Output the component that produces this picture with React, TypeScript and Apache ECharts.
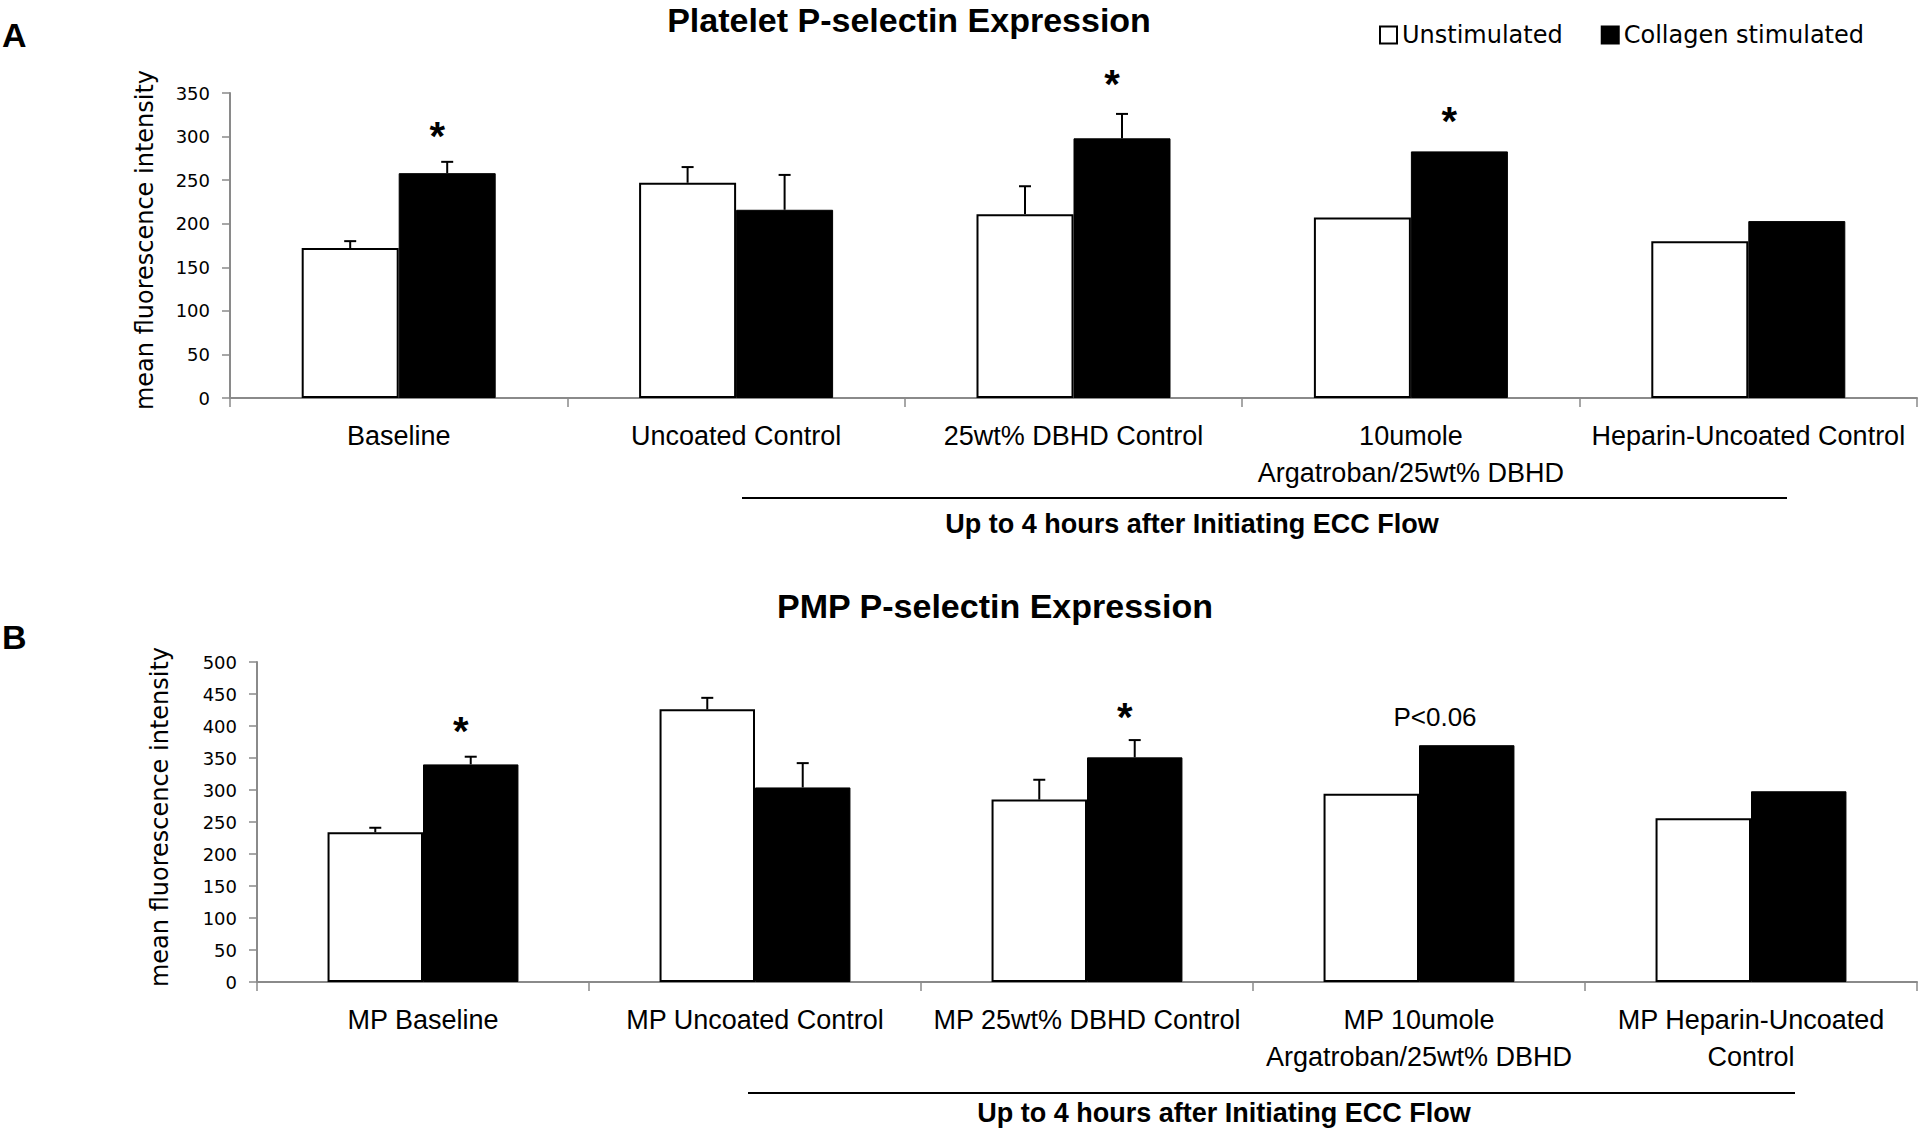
import React, { useEffect, useRef } from "react";
import * as echarts from "echarts";

// ---------- Data ----------
const categoriesA = [
  "Baseline",
  "Uncoated Control",
  "25wt% DBHD Control",
  "10umole\nArgatroban/25wt% DBHD",
  "Heparin-Uncoated Control",
];
const unstimA = [172, 247, 211, 207, 180];
const unstimErrA = [8, 18, 32, 0, 0];
const collagenA = [258, 216, 298, 283, 203];
const collagenErrA = [13, 40, 28, 0, 0];
const annotCatA = [0, 2, 3];
const annotValA = [310, 370, 327];
const annotTextA = ["*", "*", "*"];

const categoriesB = [
  "MP Baseline",
  "MP Uncoated Control",
  "MP 25wt% DBHD Control",
  "MP 10umole\nArgatroban/25wt% DBHD",
  "MP Heparin-Uncoated\nControl",
];
const unstimB = [234, 426, 285, 294, 256];
const unstimErrB = [7, 18, 31, 0, 0];
const collagenB = [340, 304, 351, 370, 298];
const collagenErrB = [12, 38, 27, 0, 0];
const annotCatB = [0, 2, 3];
const annotValB = [404, 427, 414];
const annotTextB = ["*", "*", "P<0.06"];

const yTicksA = { min: 0, max: 350, interval: 50 };
const yTicksB = { min: 0, max: 500, interval: 50 };

const seriesNames = ["Unstimulated", "Collagen stimulated"];

// ---------- Styling ----------
const CAT_GAP = 0.425;
const AXIS_COLOR = "#8a8a8a";
const LABEL_FONT = "'Liberation Sans', Arial, sans-serif";
const TICK_FONT = "'DejaVu Sans', Verdana, sans-serif";

function errData(vals: number[], errs: number[], side: number) {
  return vals
    .map((v, i) => [i, v, v + errs[i], side])
    .filter((d) => errs[d[0] as number] > 0);
}

function annotData(cats: number[], vals: number[], texts: string[]) {
  return cats.map((c, i) => ({ value: [c, vals[i]], text: texts[i] }));
}

function errRender(params: any, api: any) {
  const cat = api.value(0);
  const top = api.coord([cat, api.value(2)]);
  const base = api.coord([cat, api.value(1)]);
  const bw = (api.size([1, 0])[0] * (1 - CAT_GAP)) / 2;
  const x = top[0] + (api.value(3) * bw) / 2;
  const cap = 6;
  const style = { stroke: "#000", lineWidth: 2 };
  return {
    type: "group",
    children: [
      { type: "line", shape: { x1: x, y1: base[1], x2: x, y2: top[1] }, style },
      { type: "line", shape: { x1: x - cap, y1: top[1], x2: x + cap, y2: top[1] }, style },
    ],
  };
}

function makeAnnotRender(items: { value: number[]; text: string }[]) {
  return (params: any, api: any) => {
    const item = items[params.dataIndex];
    const p = api.coord([api.value(0), api.value(1)]);
    const bw = (api.size([1, 0])[0] * (1 - CAT_GAP)) / 2;
    const isStar = item.text === "*";
    const x = isStar ? p[0] + bw / 2 - 10 : p[0] + 16;
    return {
      type: "text",
      x,
      y: isStar ? p[1] + 8 : p[1],
      style: {
        text: item.text,
        fontFamily: LABEL_FONT,
        fontSize: isStar ? 40 : 26,
        fontWeight: isStar ? "bold" : "normal",
        fill: "#000",
        align: "center",
        verticalAlign: "middle",
      },
    };
  };
}

function xAxisCfg(cats: string[], gridIndex: number) {
  return {
    type: "category",
    gridIndex,
    data: cats,
    axisLine: { show: true, lineStyle: { color: AXIS_COLOR, width: 2 } },
    axisTick: { show: true, length: 9, interval: 0, lineStyle: { color: AXIS_COLOR, width: 1.5 } },
    axisLabel: {
      interval: 0,
      margin: 19,
      color: "#000",
      fontFamily: LABEL_FONT,
      fontSize: 27,
      lineHeight: 37,
    },
    splitLine: { show: false },
  };
}

function yAxisCfg(t: { min: number; max: number; interval: number }, gridIndex: number) {
  return {
    type: "value",
    gridIndex,
    min: t.min,
    max: t.max,
    interval: t.interval,
    axisLine: { show: true, lineStyle: { color: AXIS_COLOR, width: 2 } },
    axisTick: { show: true, length: 8, lineStyle: { color: AXIS_COLOR, width: 1.5 } },
    axisLabel: { margin: 20, color: "#000", fontFamily: TICK_FONT, fontSize: 18 },
    splitLine: { show: false },
  };
}

export default function App() {
  const ref = useRef<HTMLDivElement>(null);

  useEffect(() => {
    if (!ref.current) return;
    const chart = echarts.init(ref.current, null, { renderer: "svg" });

    const annA = annotData(annotCatA, annotValA, annotTextA);
    const annB = annotData(annotCatB, annotValB, annotTextB);

    const whiteStyle = { color: "#fff", borderColor: "#000", borderWidth: 2 };
    const blackStyle = { color: "#000", borderColor: "#000", borderWidth: 1 };

    const option: any = {
      animation: false,
      backgroundColor: "#fff",
      legend: {
        data: seriesNames,
        left: 1374,
        top: 18,
        itemWidth: 17,
        itemHeight: 17,
        itemGap: 38,
        icon: "rect",
        textStyle: { color: "#000", fontFamily: TICK_FONT, fontSize: 24 },
      },
      grid: [
        { left: 230, top: 93, width: 1687, height: 305 },
        { left: 257, top: 662, width: 1660, height: 320 },
      ],
      xAxis: [xAxisCfg(categoriesA, 0), xAxisCfg(categoriesB, 1)],
      yAxis: [yAxisCfg(yTicksA, 0), yAxisCfg(yTicksB, 1)],
      series: [
        {
          name: seriesNames[0], type: "bar", xAxisIndex: 0, yAxisIndex: 0,
          data: unstimA, itemStyle: whiteStyle, barGap: "0%", barCategoryGap: CAT_GAP * 100 + "%",
        },
        {
          name: seriesNames[1], type: "bar", xAxisIndex: 0, yAxisIndex: 0,
          data: collagenA, itemStyle: blackStyle, barGap: "0%", barCategoryGap: CAT_GAP * 100 + "%",
        },
        {
          name: seriesNames[0], type: "bar", xAxisIndex: 1, yAxisIndex: 1,
          data: unstimB, itemStyle: whiteStyle, barGap: "0%", barCategoryGap: CAT_GAP * 100 + "%",
        },
        {
          name: seriesNames[1], type: "bar", xAxisIndex: 1, yAxisIndex: 1,
          data: collagenB, itemStyle: blackStyle, barGap: "0%", barCategoryGap: CAT_GAP * 100 + "%",
        },
        {
          type: "custom", xAxisIndex: 0, yAxisIndex: 0, z: 5, clip: false,
          renderItem: errRender,
          data: [...errData(unstimA, unstimErrA, -1), ...errData(collagenA, collagenErrA, 1)],
        },
        {
          type: "custom", xAxisIndex: 1, yAxisIndex: 1, z: 5, clip: false,
          renderItem: errRender,
          data: [...errData(unstimB, unstimErrB, -1), ...errData(collagenB, collagenErrB, 1)],
        },
        {
          type: "custom", xAxisIndex: 0, yAxisIndex: 0, z: 6, clip: false,
          renderItem: makeAnnotRender(annA), data: annA.map((a) => a.value),
        },
        {
          type: "custom", xAxisIndex: 1, yAxisIndex: 1, z: 6, clip: false,
          renderItem: makeAnnotRender(annB), data: annB.map((a) => a.value),
        },
      ],
      graphic: [
        { type: "text", left: 2, top: 18, style: { text: "A", fontFamily: LABEL_FONT, fontWeight: "bold", fontSize: 34, fill: "#000" } },
        { type: "text", left: 2, top: 620, style: { text: "B", fontFamily: LABEL_FONT, fontWeight: "bold", fontSize: 34, fill: "#000" } },
        {
          type: "text", x: 909, y: 20,
          style: { text: "Platelet P-selectin Expression", fontFamily: LABEL_FONT, fontWeight: "bold", fontSize: 34, fill: "#000", align: "center", verticalAlign: "middle" },
        },
        {
          type: "text", x: 995, y: 606,
          style: { text: "PMP P-selectin Expression", fontFamily: LABEL_FONT, fontWeight: "bold", fontSize: 34, fill: "#000", align: "center", verticalAlign: "middle" },
        },
        {
          type: "text", x: 145, y: 240, rotation: Math.PI / 2,
          style: { text: "mean fluorescence intensity", fontFamily: TICK_FONT, fontSize: 24, fill: "#000", align: "center", verticalAlign: "middle" },
        },
        {
          type: "text", x: 160, y: 817, rotation: Math.PI / 2,
          style: { text: "mean fluorescence intensity", fontFamily: TICK_FONT, fontSize: 24, fill: "#000", align: "center", verticalAlign: "middle" },
        },
        { type: "line", shape: { x1: 742, y1: 498, x2: 1787, y2: 498 }, style: { stroke: "#000", lineWidth: 2 } },
        { type: "line", shape: { x1: 748, y1: 1093, x2: 1795, y2: 1093 }, style: { stroke: "#000", lineWidth: 2 } },
        {
          type: "text", x: 1192, y: 524,
          style: { text: "Up to 4 hours after Initiating ECC Flow", fontFamily: LABEL_FONT, fontWeight: "bold", fontSize: 27, fill: "#000", align: "center", verticalAlign: "middle" },
        },
        {
          type: "text", x: 1224, y: 1113,
          style: { text: "Up to 4 hours after Initiating ECC Flow", fontFamily: LABEL_FONT, fontWeight: "bold", fontSize: 27, fill: "#000", align: "center", verticalAlign: "middle" },
        },
      ],
    };

    chart.setOption(option);
    return () => chart.dispose();
  }, []);

  return (
    <div
      ref={ref}
      style={{ position: "absolute", left: 0, top: 0, width: 1920, height: 1130 }}
    />
  );
}
